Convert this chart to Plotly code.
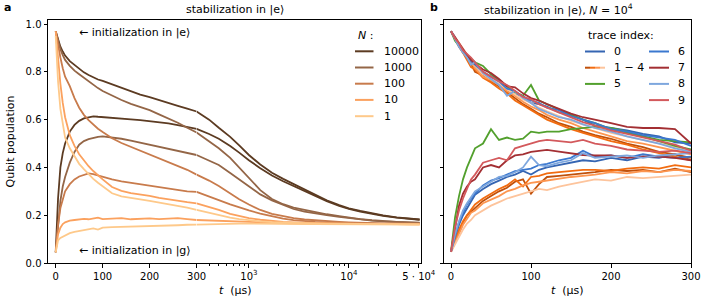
import math
import plotly.graph_objects as go

W, H = 705, 300
FONT = "DejaVu Sans"

# ---------------- panel a data ----------------
T_A = [0, 5, 10, 15, 20, 30, 40, 50, 60, 70, 80, 90, 100, 120, 140, 160, 180, 200, 220, 240, 260, 280, 300,
       400, 500, 650, 800, 1000, 1300, 1700, 2200, 2800, 3600, 4600, 6000, 8000, 10000, 13000, 17000,
       22000, 30000, 40000, 51000]

E_10000 = [0.97, 0.935, 0.905, 0.885, 0.868, 0.845, 0.828, 0.812, 0.798, 0.787, 0.776, 0.768, 0.762, 0.748, 0.733,
           0.718, 0.705, 0.694, 0.683, 0.67, 0.658, 0.646, 0.634,
           0.600, 0.566, 0.528, 0.492, 0.452, 0.412, 0.378, 0.352, 0.331, 0.307, 0.286, 0.262, 0.242, 0.229,
           0.218, 0.207, 0.199, 0.191, 0.186, 0.182]
G_10000 = [0.045, 0.27, 0.40, 0.46, 0.50, 0.55, 0.578, 0.595, 0.605, 0.611, 0.614, 0.612, 0.61, 0.607, 0.604,
           0.601, 0.598, 0.594, 0.589, 0.584, 0.577, 0.57, 0.561,
           0.540, 0.520, 0.490, 0.462, 0.430, 0.397, 0.366, 0.342, 0.322, 0.301, 0.281, 0.259, 0.239, 0.226,
           0.215, 0.205, 0.197, 0.19, 0.185, 0.181]
E_1000 = [0.97, 0.93, 0.895, 0.87, 0.85, 0.825, 0.805, 0.79, 0.775, 0.76, 0.745, 0.732, 0.72, 0.70, 0.682,
          0.666, 0.652, 0.64, 0.622, 0.605, 0.587, 0.566, 0.546,
          0.51, 0.48, 0.44, 0.40, 0.36, 0.305, 0.268, 0.246, 0.232, 0.222, 0.212, 0.204, 0.196, 0.19,
          0.184, 0.179, 0.175, 0.172, 0.17, 0.169]
G_1000 = [0.045, 0.17, 0.26, 0.32, 0.36, 0.42, 0.465, 0.495, 0.51, 0.518, 0.524, 0.528, 0.53, 0.526, 0.52,
          0.512, 0.503, 0.494, 0.487, 0.478, 0.47, 0.461, 0.452,
          0.43, 0.41, 0.377, 0.35, 0.32, 0.287, 0.262, 0.242, 0.226, 0.215, 0.207, 0.2, 0.193, 0.188,
          0.182, 0.177, 0.174, 0.171, 0.17, 0.168]
E_100 = [0.97, 0.91, 0.86, 0.815, 0.78, 0.74, 0.69, 0.65, 0.62, 0.598, 0.578, 0.562, 0.548, 0.522, 0.502,
         0.486, 0.47, 0.455, 0.44, 0.422, 0.406, 0.39, 0.37,
         0.345, 0.322, 0.29, 0.267, 0.245, 0.222, 0.206, 0.196, 0.188, 0.182, 0.178, 0.175, 0.172, 0.17,
         0.168, 0.167, 0.166, 0.166, 0.165, 0.165]
G_100 = [0.045, 0.16, 0.23, 0.27, 0.30, 0.33, 0.35, 0.362, 0.37, 0.375, 0.372, 0.366, 0.36, 0.35, 0.342,
         0.336, 0.33, 0.325, 0.318, 0.31, 0.305, 0.30, 0.298,
         0.28, 0.263, 0.245, 0.232, 0.22, 0.207, 0.196, 0.186, 0.179, 0.175, 0.172, 0.17, 0.168, 0.167,
         0.166, 0.165, 0.165, 0.164, 0.164, 0.164]
E_10 = [0.97, 0.85, 0.75, 0.67, 0.61, 0.535, 0.49, 0.455, 0.43, 0.405, 0.385, 0.366, 0.35, 0.318, 0.302,
        0.292, 0.287, 0.281, 0.273, 0.266, 0.26, 0.255, 0.25,
        0.235, 0.222, 0.206, 0.196, 0.188, 0.181, 0.176, 0.172, 0.17, 0.168, 0.167, 0.166, 0.165, 0.165,
        0.164, 0.164, 0.163, 0.163, 0.163, 0.163]
G_10 = [0.045, 0.12, 0.148, 0.163, 0.17, 0.177, 0.18, 0.182, 0.185, 0.183, 0.187, 0.19, 0.184, 0.186, 0.188,
        0.183, 0.185, 0.187, 0.184, 0.186, 0.188, 0.184, 0.18,
        0.178, 0.176, 0.174, 0.172, 0.17, 0.169, 0.168, 0.167, 0.166, 0.166, 0.165, 0.165, 0.164, 0.164,
        0.163, 0.163, 0.163, 0.163, 0.162, 0.162]
E_1 = [0.95, 0.76, 0.645, 0.575, 0.525, 0.48, 0.445, 0.415, 0.393, 0.372, 0.352, 0.336, 0.322, 0.292, 0.279,
       0.271, 0.266, 0.26, 0.253, 0.246, 0.24, 0.232, 0.222,
       0.21, 0.2, 0.19, 0.184, 0.178, 0.174, 0.171, 0.169, 0.168, 0.167, 0.166, 0.165, 0.165, 0.164,
       0.164, 0.163, 0.163, 0.162, 0.162, 0.162]
G_1 = [0.045, 0.095, 0.105, 0.11, 0.117, 0.125, 0.13, 0.134, 0.138, 0.14, 0.145, 0.14, 0.148, 0.15, 0.151,
       0.152, 0.151, 0.155, 0.153, 0.157, 0.158, 0.16, 0.161,
       0.163, 0.164, 0.165, 0.165, 0.165, 0.164, 0.165, 0.164, 0.164, 0.163, 0.163, 0.163, 0.162, 0.162,
       0.162, 0.162, 0.161, 0.161, 0.161, 0.161]

N_LABELS = ["10000", "1000", "100", "10", "1"]
N_COLORS = ["#5c3b22", "#946647", "#c87b4c", "#fba15e", "#fec98a"]
A_E = [E_10000, E_1000, E_100, E_10, E_1]
A_G = [G_10000, G_1000, G_100, G_10, G_1]

# ---------------- panel b data ----------------
T_B = [0, 5, 10, 15, 20, 25, 30, 40, 50, 60, 70, 80, 90, 100, 110, 120, 135, 150, 165, 180, 200, 220, 240,
       260, 280, 300]

B0_E = [0.97, 0.945, 0.91, 0.895, 0.865, 0.855, 0.82, 0.795, 0.78, 0.765, 0.74, 0.705, 0.70, 0.67, 0.665, 0.655,
        0.63, 0.62, 0.60, 0.575, 0.565, 0.555, 0.54, 0.53, 0.505, 0.50]
B1_E = [0.97, 0.935, 0.905, 0.88, 0.86, 0.835, 0.80, 0.785, 0.76, 0.74, 0.715, 0.69, 0.665, 0.645, 0.625, 0.61,
        0.585, 0.57, 0.55, 0.535, 0.52, 0.50, 0.485, 0.465, 0.455, 0.44]
B2_E = [0.97, 0.94, 0.91, 0.875, 0.85, 0.82, 0.81, 0.775, 0.755, 0.73, 0.71, 0.68, 0.66, 0.64, 0.62, 0.60,
        0.58, 0.56, 0.545, 0.53, 0.51, 0.495, 0.475, 0.46, 0.445, 0.43]
B3_E = [0.97, 0.94, 0.92, 0.885, 0.865, 0.84, 0.815, 0.78, 0.765, 0.745, 0.72, 0.70, 0.675, 0.655, 0.64, 0.62,
        0.60, 0.585, 0.565, 0.55, 0.53, 0.51, 0.50, 0.485, 0.47, 0.455]
B4_E = [0.97, 0.945, 0.925, 0.895, 0.87, 0.85, 0.825, 0.79, 0.77, 0.75, 0.73, 0.705, 0.685, 0.67, 0.65, 0.635,
        0.615, 0.595, 0.58, 0.565, 0.545, 0.53, 0.515, 0.50, 0.485, 0.47]
B5_E = [0.97, 0.93, 0.91, 0.885, 0.87, 0.855, 0.84, 0.825, 0.79, 0.765, 0.74, 0.715, 0.70, 0.745, 0.68, 0.665,
        0.64, 0.62, 0.60, 0.585, 0.56, 0.545, 0.53, 0.51, 0.49, 0.475]
B6_E = [0.97, 0.94, 0.915, 0.89, 0.87, 0.845, 0.83, 0.80, 0.78, 0.76, 0.73, 0.72, 0.695, 0.68, 0.67, 0.65,
        0.64, 0.615, 0.60, 0.585, 0.56, 0.55, 0.535, 0.525, 0.515, 0.49]
B7_E = [0.97, 0.945, 0.915, 0.895, 0.87, 0.85, 0.835, 0.81, 0.795, 0.77, 0.74, 0.735, 0.71, 0.69, 0.68, 0.665,
        0.645, 0.625, 0.61, 0.60, 0.585, 0.57, 0.565, 0.565, 0.56, 0.50]
B8_E = [0.97, 0.935, 0.905, 0.88, 0.86, 0.83, 0.84, 0.795, 0.77, 0.745, 0.70, 0.72, 0.69, 0.67, 0.645, 0.63,
        0.61, 0.60, 0.58, 0.565, 0.55, 0.53, 0.515, 0.50, 0.48, 0.465]
B9_E = [0.97, 0.94, 0.92, 0.89, 0.875, 0.86, 0.84, 0.80, 0.78, 0.76, 0.745, 0.72, 0.695, 0.685, 0.665, 0.65,
        0.63, 0.61, 0.59, 0.575, 0.555, 0.54, 0.525, 0.51, 0.495, 0.47]

B0_G = [0.047, 0.10, 0.16, 0.20, 0.23, 0.26, 0.285, 0.31, 0.33, 0.345, 0.36, 0.37, 0.385, 0.37, 0.39, 0.40,
        0.41, 0.42, 0.43, 0.425, 0.44, 0.43, 0.445, 0.44, 0.455, 0.43]
B1_G = [0.047, 0.09, 0.13, 0.17, 0.20, 0.215, 0.23, 0.26, 0.28, 0.30, 0.315, 0.34, 0.35, 0.29, 0.33, 0.36,
        0.365, 0.37, 0.375, 0.38, 0.39, 0.385, 0.39, 0.38, 0.395, 0.38]
B2_G = [0.047, 0.10, 0.14, 0.175, 0.20, 0.225, 0.245, 0.27, 0.29, 0.31, 0.325, 0.35, 0.32, 0.36, 0.365, 0.375,
        0.38, 0.385, 0.39, 0.39, 0.385, 0.395, 0.40, 0.395, 0.41, 0.40]
B3_G = [0.047, 0.085, 0.12, 0.16, 0.185, 0.21, 0.22, 0.25, 0.265, 0.28, 0.30, 0.31, 0.325, 0.335, 0.34, 0.345,
        0.355, 0.36, 0.365, 0.37, 0.38, 0.375, 0.385, 0.38, 0.39, 0.385]
B4_G = [0.047, 0.08, 0.11, 0.14, 0.165, 0.18, 0.20, 0.22, 0.24, 0.255, 0.27, 0.28, 0.29, 0.30, 0.31, 0.305,
        0.32, 0.33, 0.34, 0.35, 0.345, 0.36, 0.355, 0.36, 0.365, 0.37]
B5_G = [0.047, 0.19, 0.28, 0.35, 0.40, 0.44, 0.48, 0.50, 0.56, 0.515, 0.525, 0.515, 0.52, 0.55, 0.545, 0.55,
        0.55, 0.56, 0.565, 0.57, 0.565, 0.55, 0.53, 0.515, 0.51, 0.505]
B6_G = [0.047, 0.11, 0.17, 0.21, 0.245, 0.27, 0.29, 0.325, 0.345, 0.355, 0.37, 0.385, 0.39, 0.395, 0.41, 0.415,
        0.43, 0.44, 0.47, 0.445, 0.45, 0.44, 0.455, 0.445, 0.44, 0.445]
B7_G = [0.047, 0.14, 0.24, 0.29, 0.32, 0.34, 0.35, 0.40, 0.41, 0.40, 0.43, 0.45, 0.455, 0.465, 0.47, 0.473,
        0.466, 0.46, 0.452, 0.45, 0.45, 0.44, 0.445, 0.445, 0.44, 0.43]
B8_G = [0.047, 0.12, 0.175, 0.22, 0.25, 0.275, 0.30, 0.32, 0.34, 0.36, 0.365, 0.38, 0.40, 0.445, 0.41, 0.405,
        0.42, 0.43, 0.46, 0.44, 0.445, 0.45, 0.44, 0.45, 0.455, 0.46]
B9_G = [0.047, 0.15, 0.22, 0.27, 0.31, 0.35, 0.37, 0.42, 0.43, 0.44, 0.43, 0.48, 0.49, 0.50, 0.51, 0.515,
        0.51, 0.505, 0.515, 0.50, 0.49, 0.475, 0.47, 0.465, 0.47, 0.46]

B_E = [B0_E, B1_E, B2_E, B3_E, B4_E, B5_E, B6_E, B7_E, B8_E, B9_E]
B_G = [B0_G, B1_G, B2_G, B3_G, B4_G, B5_G, B6_G, B7_G, B8_G, B9_G]
B_COLORS = ["#3565b2", "#c0500a", "#f26c10", "#fd9650", "#fdc49c",
            "#52a02d", "#3b78cf", "#a32f33", "#7ea7de", "#d3595c"]
B_LEGEND = [("0", [0]), ("1 − 4", [1, 2, 3, 4]), ("5", [5]), ("6", [6]), ("7", [7]), ("8", [8]), ("9", [9])]

Y_TICKS = [0.0, 0.2, 0.4, 0.6, 0.8, 1.0]
Y_TICKTEXT = ["0.0", "0.2", "0.4", "0.6", "0.8", "1.0"]
XA_LIN_TICKS = [0, 100, 200, 300]
XA_LOG_TICKS = [1000, 10000, 50000]
XA_LOG_TICKTEXT = ["10<sup>3</sup>", "10<sup>4</sup>", "5 · 10<sup>4</sup>"]
XA_LOG_MINOR = [400, 500, 600, 700, 800, 900, 2000, 3000, 4000, 5000, 6000, 7000, 8000, 9000,
                20000, 30000, 40000]
XB_TICKS = [0, 100, 200, 300]

# ---------------- layout geometry (pixels) ----------------
XL0, XL1, XL2 = 48, 196.6, 421
XR0, XR1 = 444, 691
YT, YB = 20, 263
T_SPLIT = 300


def px(x):
    return x / W


def py(y):
    return 1 - y / H


fig = go.Figure()

LW = 1.8
for color, e, g in zip(N_COLORS, A_E, A_G):
    for vals in (e, g):
        lin = [(t, v) for t, v in zip(T_A, vals) if t <= T_SPLIT]
        lg = [(t, v) for t, v in zip(T_A, vals) if t >= T_SPLIT]
        fig.add_trace(go.Scatter(x=[p[0] for p in lin], y=[p[1] for p in lin], xaxis="x", yaxis="y",
                                 mode="lines", line=dict(color=color, width=LW),
                                 showlegend=False, hoverinfo="skip"))
        fig.add_trace(go.Scatter(x=[p[0] for p in lg], y=[p[1] for p in lg], xaxis="x2", yaxis="y2",
                                 mode="lines", line=dict(color=color, width=LW),
                                 showlegend=False, hoverinfo="skip"))

for color, e, g in zip(B_COLORS, B_E, B_G):
    for vals in (e, g):
        fig.add_trace(go.Scatter(x=T_B, y=vals, xaxis="x3", yaxis="y3", mode="lines",
                                 line=dict(color=color, width=LW), showlegend=False, hoverinfo="skip"))

common = dict(showgrid=False, zeroline=False, showline=True, linecolor="black", linewidth=1,
              ticks="outside", ticklen=3.5, tickwidth=1, tickcolor="black",
              tickfont=dict(family=FONT, size=10, color="black"))
ydom = [py(YB), py(YT)]
yrange = [0, 1.017]

fig.update_layout(
    width=W, height=H,
    margin=dict(l=0, r=0, t=0, b=0, autoexpand=False),
    paper_bgcolor="white", plot_bgcolor="white",
    showlegend=False,
    xaxis=dict(domain=[px(XL0), px(XL1)], range=[-16.4, 300], tickvals=XA_LIN_TICKS, mirror=True,
               anchor="y", **common),
    xaxis2=dict(type="log", domain=[px(XL1), px(XL2)],
                range=[math.log10(300), math.log10(300) + (XL2 - XL1) / 100.0],
                tickvals=XA_LOG_TICKS, ticktext=XA_LOG_TICKTEXT, mirror=True, anchor="y2",
                minor=dict(tickvals=XA_LOG_MINOR, ticks="outside", ticklen=2, tickwidth=0.8,
                           tickcolor="black"),
                **common),
    yaxis=dict(domain=ydom, range=yrange, tickvals=Y_TICKS, ticktext=Y_TICKTEXT, anchor="x", **common),
    yaxis2=dict(domain=ydom, range=yrange, anchor="x2", side="right", showgrid=False, zeroline=False,
                showline=True, linecolor="black", linewidth=1, ticks="", showticklabels=False),
    xaxis3=dict(domain=[px(XR0), px(XR1)], range=[-8.75, 300], tickvals=XB_TICKS, mirror=True,
                anchor="y3", **common),
    yaxis3=dict(domain=ydom, range=yrange, tickvals=Y_TICKS, showticklabels=False, mirror=True,
                anchor="x3", **common),
)

ann = []
shapes = []


def text(x, y, s, xanchor="left", size=11, angle=0):
    ann.append(dict(x=px(x), y=py(y), xref="paper", yref="paper", text=s, showarrow=False,
                    xanchor=xanchor, yanchor="middle", textangle=angle,
                    font=dict(family=FONT, size=size, color="black")))


text(2, 8, "<b>a</b>", size=11)
text(428, 8, "<b>b</b>", size=11)
text(234.5, 10, "stabilization in |e⟩", xanchor="center")
text(558, 10, "stabilization in |e⟩, <i>N</i> = 10<sup>4</sup>", xanchor="center")
text(235, 290, "<i>t</i>  (µs)", xanchor="center")
text(567.5, 290, "<i>t</i>  (µs)", xanchor="center")
text(10, 141.5, "Qubit population", xanchor="center", angle=-90)
text(77, 32, "← initialization in |e⟩")
text(77, 250, "← initialization in |g⟩")

# legend panel a
text(356, 35, "<i>N</i> :")
rows_a = [51.3, 67.5, 83.7, 99.9, 116.2]
for lab, col, yy in zip(N_LABELS, N_COLORS, rows_a):
    shapes.append(dict(type="line", xref="paper", yref="paper", x0=px(355), x1=px(373.5),
                       y0=py(yy), y1=py(yy), line=dict(color=col, width=2)))
    text(382, yy, lab)

# legend panel b
text(586, 35, "trace index:")
rows_b = [51.5, 67.7, 83.9, 100.1]
slots = [(0, 0), (0, 1), (0, 2), (1, 0), (1, 1), (1, 2), (1, 3)]
for (lab, idxs), (c, r) in zip(B_LEGEND, slots):
    x0 = 585 if c == 0 else 649
    xl = 612 if c == 0 else 676
    yy = rows_b[r]
    seg = 20.0 / len(idxs)
    for k, i in enumerate(idxs):
        shapes.append(dict(type="line", xref="paper", yref="paper", x0=px(x0 + k * seg),
                           x1=px(x0 + (k + 1) * seg), y0=py(yy), y1=py(yy),
                           line=dict(color=B_COLORS[i], width=2)))
    text(xl, yy, lab)

fig.update_layout(annotations=ann, shapes=shapes)
fig.write_html("out.html", config={"displayModeBar": False},
               post_script="document.body.style.margin='0';document.body.style.padding='0';")
